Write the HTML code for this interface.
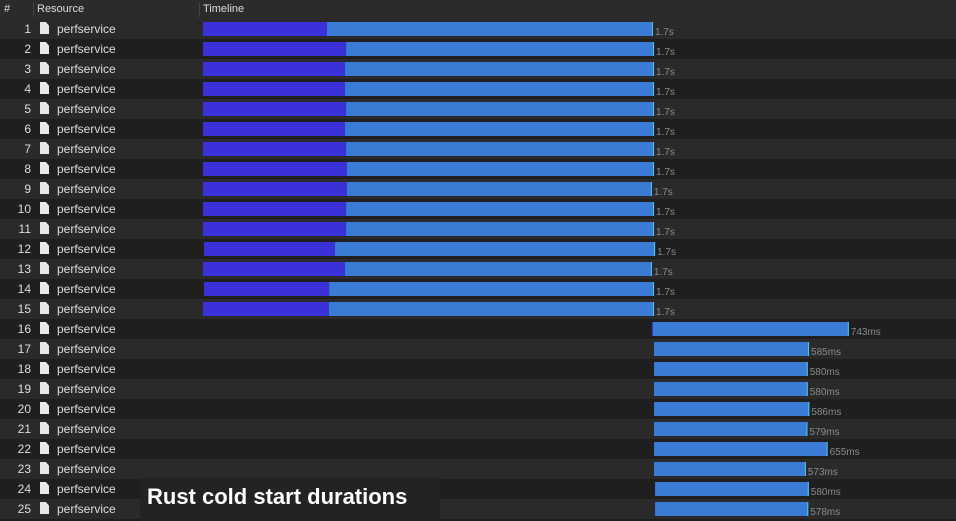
<!DOCTYPE html>
<html><head><meta charset="utf-8"><style>
body{margin:0;width:956px;height:521px;overflow:hidden;background:#1e1e1e;font-family:"Liberation Sans",sans-serif;position:relative}
.hdr{position:absolute;left:0;top:0;width:956px;height:19px;background:#2b2b2b;border-bottom:1px solid #3a3a3a;color:#ddd;font-size:11px}
.hdr span{position:absolute;top:3px}
.div{position:absolute;top:2px;width:1px;height:15px;background:#444}
.row{position:absolute;left:0;width:956px;height:20px}
.num{position:absolute;right:925px;top:3px;color:#ddd;font-size:12px;text-align:right}
.icon{position:absolute;left:40px;top:3px;width:9px;height:12px;background:#e8e8e8;clip-path:polygon(0 0,65% 0,100% 30%,100% 100%,0 100%)}
.name{position:absolute;left:57px;top:3px;color:#ddd;font-size:12px}
.cap{position:absolute;left:140px;top:478px;width:300px;height:43px;background:#232323}
.cap span{position:absolute;left:7px;top:6px;color:#fff;font-weight:bold;font-size:22px}
</style></head><body>
<div class="hdr">
<span style="left:4px">#</span>
<div class="div" style="left:33px"></div>
<span style="left:37px">Resource</span>
<div class="div" style="left:199px"></div>
<span style="left:203px">Timeline</span>
</div>
<div id="rows"></div>
<svg id="tl" width="956" height="521" style="position:absolute;left:0;top:0"></svg>
<div class="cap"><span>Rust cold start durations</span></div>
<script>
const startMs=[0,0,0,0,0,0,0,0,0,0,0,4,0,4,0,1694,1702,1702,1702,1702,1702,1702,1702,1706,1706];
const waitMs=[468,540,536,536,540,536,540,543,543,540,540,494,536,472,475,4,0,0,0,0,0,0,0,0,0];
const totalMs=[1698,1702,1702,1702,1702,1702,1702,1702,1694,1702,1702,1702,1694,1698,1702,743,585,580,580,586,579,655,573,580,578];
const labels=["1.7s","1.7s","1.7s","1.7s","1.7s","1.7s","1.7s","1.7s","1.7s","1.7s","1.7s","1.7s","1.7s","1.7s","1.7s","743ms","585ms","580ms","580ms","586ms","579ms","655ms","573ms","580ms","578ms"];
const x0=203,pxPerMs=0.265;
const xs=ms=>x0+ms*pxPerMs;
const rows=document.getElementById('rows'),svg=document.getElementById('tl');
const NS='http://www.w3.org/2000/svg';
for(let i=0;i<totalMs.length;i++){
  const top=19+i*20;
  const r=document.createElement('div');r.className='row';
  
  
  r.style.top=top+'px';r.style.background=i%2?'#1f1f1f':'#2a2a2a';
  r.innerHTML='<span class="num">'+(i+1)+'</span><div class="icon"></div><span class="name">perfservice</span>';
  rows.appendChild(r);
  const s=xs(startMs[i]),w=xs(startMs[i]+waitMs[i]),e=xs(startMs[i]+totalMs[i]);
  const d=document.createElementNS(NS,'rect');
  
  
  d.setAttribute('x',s);d.setAttribute('y',top+3);d.setAttribute('width',Math.max(w-s,1));d.setAttribute('height',14);d.setAttribute('fill','#3a31d8');svg.appendChild(d);
  const l=document.createElementNS(NS,'rect');
  
  
  l.setAttribute('x',w);l.setAttribute('y',top+3);l.setAttribute('width',e-w);l.setAttribute('height',14);l.setAttribute('fill','#3a7bd5');svg.appendChild(l);
  const c=document.createElementNS(NS,'rect');
  
  
  c.setAttribute('x',e-1);c.setAttribute('y',top+3);c.setAttribute('width',1);c.setAttribute('height',14);c.setAttribute('fill','#4ec8ee');svg.appendChild(c);
  const t=document.createElementNS(NS,'text');
  
  
  t.setAttribute('x',e+2);t.setAttribute('y',top+16);t.setAttribute('fill','#8a8a8a');t.setAttribute('font-size','10');t.setAttribute('font-family','Liberation Sans, sans-serif');
  t.textContent=labels[i];svg.appendChild(t);
}
</script>
</body></html>
